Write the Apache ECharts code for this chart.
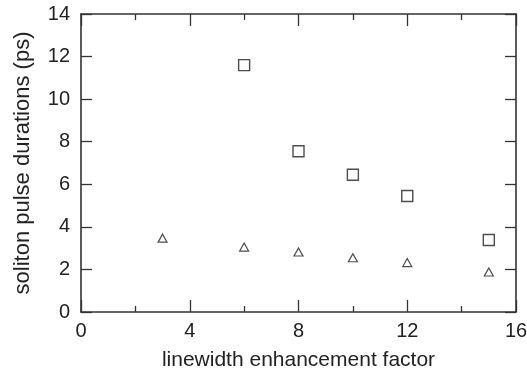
<!DOCTYPE html>
<html><head><meta charset="utf-8">
<script src="https://cdn.jsdelivr.net/npm/echarts@6/dist/echarts.min.js"></script>
<style>html,body{margin:0;padding:0;background:#fff;overflow:hidden}#c{width:527px;height:374px}</style>
</head><body><div id="c"></div>
<script>
const squareX = [6, 8, 10, 12, 15];
const squareY = [11.6, 7.55, 6.45, 5.45, 3.38];
const triX = [3, 6, 8, 10, 12, 15];
const triY = [3.47, 3.05, 2.82, 2.55, 2.32, 1.88];
const xTitle = 'linewidth enhancement factor';
const yTitle = 'soliton pulse durations (ps)';

const chart = echarts.init(document.getElementById('c'));
const axCol = '#333';
const font = '"Liberation Sans", Arial, sans-serif';
function xAx(pos, show) {
  return {
    type: 'value', position: pos, min: 0, max: 16, interval: 4,
    name: show ? xTitle : '', nameLocation: 'middle', nameGap: 38,
    nameTextStyle: {fontFamily: font, fontSize: 21, color: '#222'},
    axisLine: {show: true, onZero: false, lineStyle: {color: axCol, width: 1.6}},
    axisTick: {show: true, inside: true, length: 12, lineStyle: {color: axCol, width: 1.3}},
    minorTick: {show: true, splitNumber: 2, length: 6, lineStyle: {color: axCol, width: 1.3}},
    axisLabel: {show: show, fontFamily: font, fontSize: 20, color: '#222', margin: 9},
    splitLine: {show: false}, minorSplitLine: {show: false}
  };
}
function yAx(pos, show) {
  return {
    type: 'value', position: pos, min: 0, max: 14, interval: 2,
    name: show ? yTitle : '', nameLocation: 'middle', nameGap: 47,
    nameTextStyle: {fontFamily: font, fontSize: 22, color: '#222'},
    axisLine: {show: true, onZero: false, lineStyle: {color: axCol, width: 1.6}},
    axisTick: {show: true, inside: true, length: 11, lineStyle: {color: axCol, width: 1.3}},
    axisLabel: {show: show, fontFamily: font, fontSize: 20, color: '#222', margin: 11},
    splitLine: {show: false}
  };
}
chart.setOption({
  animation: false,
  grid: {left: 81, right: 11, top: 14, bottom: 62, containLabel: false, outerBoundsMode: 'none'},
  xAxis: [xAx('bottom', true), xAx('top', false)],
  yAxis: [yAx('left', true), yAx('right', false)],
  series: [
    {type: 'scatter', symbol: 'rect', symbolSize: 11,
     itemStyle: {color: 'rgba(0,0,0,0)', borderColor: '#222', borderWidth: 1.4},
     data: squareX.map((x, i) => [x, squareY[i]])},
    {type: 'scatter', symbol: 'triangle', symbolSize: [9, 8],
     itemStyle: {color: 'rgba(0,0,0,0)', borderColor: '#222', borderWidth: 1.2},
     data: triX.map((x, i) => [x, triY[i]])}
  ]
});
</script></body></html>
